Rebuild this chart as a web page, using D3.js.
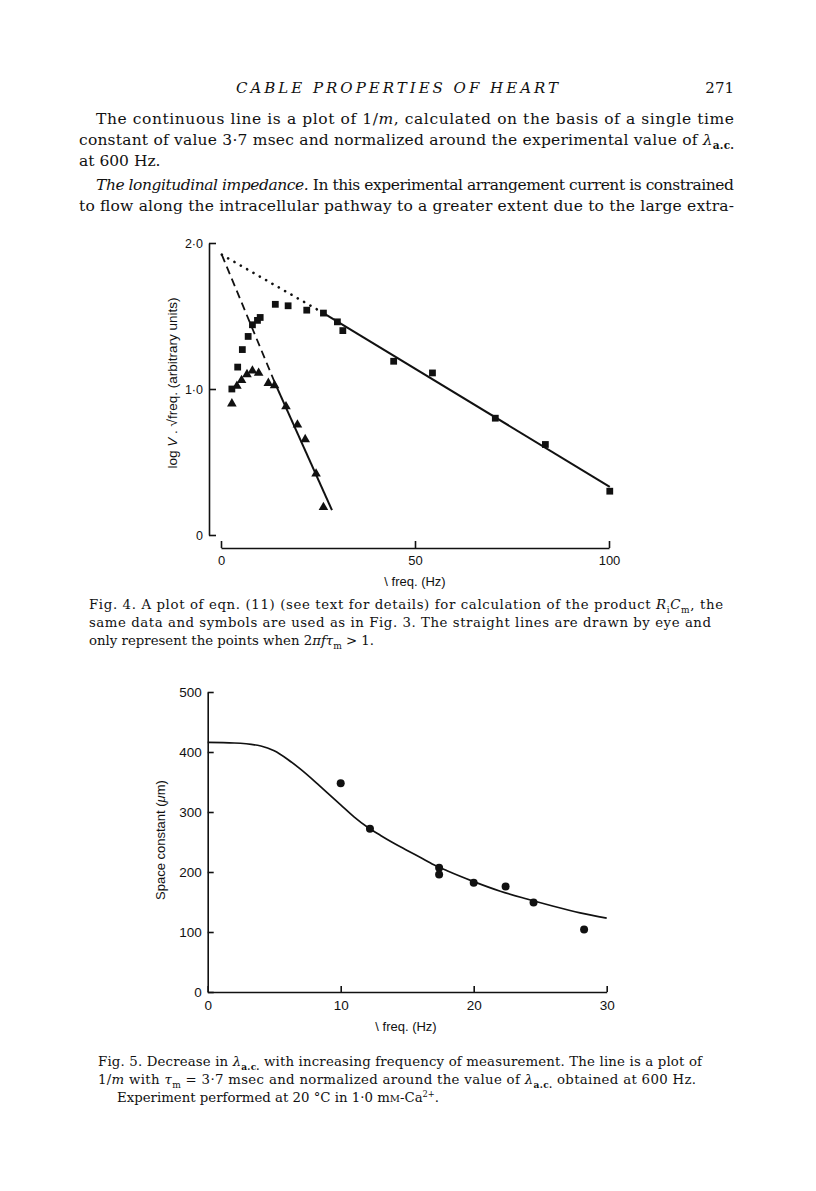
<!DOCTYPE html>
<html>
<head>
<meta charset="utf-8">
<script src="https://cdn.jsdelivr.net/npm/d3@7"></script>
<style>
  body { margin: 0; background: #fff; }
</style>
</head>
<body>
<div id="page"></div>
<script>
// ---- Fig. 4 data (sqrt freq in Hz, log V . sqrt freq) ----
const sqX = [2.8, 4.3, 5.5, 7.0, 8.1, 9.4, 10.1, 14.0, 17.3, 22.1, 26.4, 30.0, 31.4, 44.5, 54.5, 70.7, 83.6, 100.2];
const sqY = [1.00, 1.15, 1.27, 1.36, 1.44, 1.47, 1.49, 1.58, 1.57, 1.54, 1.52, 1.46, 1.40, 1.19, 1.11, 0.80, 0.62, 0.30];
const triX = [2.8, 4.1, 5.3, 6.7, 8.1, 9.7, 12.2, 13.8, 16.75, 19.7, 21.7, 24.5, 26.4];
const triY = [0.90, 1.02, 1.06, 1.10, 1.125, 1.11, 1.04, 1.025, 0.88, 0.755, 0.655, 0.42, 0.19];
// lines drawn by eye: [start, end]
const sqFitX = [26.4, 100.2], sqFitY = [1.52, 0.33];
const sqDotX = [0.2, 26.4], sqDotY = [1.92, 1.52];
const triFitX = [14.0, 28.6], triFitY = [1.035, 0.17];
const triDashX = [0.2, 14.0], triDashY = [1.92, 1.035];
const fig4XTicks = [0, 50, 100];
const fig4YTicks = [0, 1, 2];
const fig4YLabels = ["0", "1·0", "2·0"];

// ---- Fig. 5 data (sqrt freq, space constant um) ----
const dotX = [10.0, 12.2, 17.4, 17.4, 20.0, 22.4, 24.5, 28.3];
const dotY = [348, 272, 207, 196, 182, 176, 149, 104];
const curveX = [0, 2, 4, 5, 6, 7, 8, 9, 10, 11, 12, 13, 14, 15, 16, 17, 18, 20, 22, 24, 26, 28, 30];
const curveY = [416, 415, 410, 402, 388, 371, 352, 332, 312, 292, 275, 261, 248, 236, 224, 212, 202, 184, 168, 155, 143, 132, 123];
const fig5XTicks = [0, 10, 20, 30];
const fig5YTicks = [0, 100, 200, 300, 400, 500];

const serif = "'DejaVu Serif', 'Liberation Serif', serif";
const sans = "'Liberation Sans', Arial, sans-serif";
const ink = "#111";

const svg = d3.select("#page").append("svg")
  .attr("width", 816).attr("height", 1191)
  .attr("viewBox", "0 0 816 1191");
svg.append("rect").attr("width", 816).attr("height", 1191).attr("fill", "#fff");

// one line of set text; parts are strings or [string, flags]
function textLine(parts, x, y, opt) {
  const t = svg.append("text")
    .attr("x", x).attr("y", y)
    .attr("fill", ink)
    .style("font-family", opt.family || serif)
    .style("font-size", opt.size + "px");
  if (opt.width) t.attr("textLength", opt.width).attr("lengthAdjust", "spacing");
  if (opt.anchor) t.attr("text-anchor", opt.anchor);
  if (opt.italic) t.style("font-style", "italic");
  let shift = 0;
  parts.forEach(p => {
    const s = typeof p === "string" ? p : p[0];
    const flags = typeof p === "string" ? [] : p[1].split(" ");
    const sp = t.append("tspan").text(s);
    let want = 0;
    if (flags.includes("sub")) { want = opt.size * 0.28; sp.style("font-size", (opt.size * 0.68) + "px"); }
    if (flags.includes("sup")) { want = -opt.size * 0.35; sp.style("font-size", (opt.size * 0.62) + "px"); }
    if (flags.includes("sc")) sp.style("font-size", (opt.size * 0.75) + "px");
    if (flags.includes("i")) sp.style("font-style", "italic");
    if (flags.includes("b")) sp.style("font-weight", "bold");
    if (want !== shift) { sp.attr("dy", want - shift); shift = want; }
  });
  return t;
}

// ---- page header and body text ----
textLine(["CABLE PROPERTIES OF HEART"], 236, 93, { size: 15, italic: true, width: 322 });
textLine(["271"], 734, 93, { size: 15, anchor: "end" });

const bodySize = 15.5;
textLine(["The continuous line is a plot of 1/", ["m", "i"], ", calculated on the basis of a single time"], 96, 124, { size: bodySize, width: 638 });
textLine(["constant of value 3·7 msec and normalized around the experimental value of ", ["λ", "i"], ["a.c.", "sub b"]], 79, 145, { size: bodySize, width: 655 });
textLine(["at 600 Hz."], 79, 166, { size: bodySize });
textLine([["The longitudinal impedance.", "i"], " In this experimental arrangement current is constrained"], 96, 190, { size: bodySize, width: 638 });
textLine(["to flow along the intracellular pathway to a greater extent due to the large extra-"], 79, 211, { size: bodySize, width: 655 });

// ---- Fig. 4 ----
const x4 = d3.scaleLinear().domain([0, 100]).range([221, 609]);
const y4 = d3.scaleLinear().domain([0, 2]).range([535, 243]);

const g4 = svg.append("g");
g4.append("g")
  .attr("transform", "translate(209,0)")
  .call(d3.axisLeft(y4).tickValues(fig4YTicks).tickFormat((d, i) => fig4YLabels[i])
    .tickSizeInner(-7).tickSizeOuter(0).tickPadding(6))
  .call(a => a.selectAll("text").style("font-family", sans).style("font-size", "12.5px").attr("fill", ink))
  .call(a => a.selectAll("line, path").attr("stroke", ink).attr("stroke-width", 1.6));

g4.append("g")
  .attr("transform", "translate(0,548)")
  .call(d3.axisBottom(x4).tickValues(fig4XTicks).tickFormat(d3.format("d"))
    .tickSizeInner(-7).tickSizeOuter(0).tickPadding(8))
  .call(a => a.selectAll("text").style("font-family", sans).style("font-size", "13px").attr("fill", ink))
  .call(a => a.selectAll("line, path").attr("stroke", ink).attr("stroke-width", 1.6));

const pairLine = (xs, ys, xs_, ys_) => d3.line().x((d, i) => xs_(xs[i])).y((d, i) => ys_(ys[i]))(xs);

g4.append("path").attr("d", pairLine(sqFitX, sqFitY, x4, y4))
  .attr("fill", "none").attr("stroke", ink).attr("stroke-width", 2);
g4.append("path").attr("d", pairLine(triFitX, triFitY, x4, y4))
  .attr("fill", "none").attr("stroke", ink).attr("stroke-width", 2);
g4.append("path").attr("d", pairLine(sqDotX, sqDotY, x4, y4))
  .attr("fill", "none").attr("stroke", ink).attr("stroke-width", 2.6)
  .attr("stroke-linecap", "round").attr("stroke-dasharray", "0.1 7.2");
g4.append("path").attr("d", pairLine(triDashX, triDashY, x4, y4))
  .attr("fill", "none").attr("stroke", ink).attr("stroke-width", 1.8)
  .attr("stroke-dasharray", "8 5");

g4.selectAll(".sq").data(sqX).join("path")
  .attr("class", "sq")
  .attr("transform", (d, i) => `translate(${x4(d)},${y4(sqY[i])})`)
  .attr("d", d3.symbol(d3.symbolSquare, 46))
  .attr("fill", ink);

g4.selectAll(".tri").data(triX).join("path")
  .attr("class", "tri")
  .attr("transform", (d, i) => `translate(${x4(d)},${y4(triY[i])})`)
  .attr("d", d3.symbol(d3.symbolTriangle, 40))
  .attr("fill", ink);

svg.append("text")
  .attr("transform", "translate(177,383) rotate(-90)")
  .attr("text-anchor", "middle")
  .attr("fill", ink)
  .style("font-family", sans).style("font-size", "13.5px")
  .call(t => {
    t.append("tspan").text("log ");
    t.append("tspan").text("V").style("font-style", "italic");
    t.append("tspan").text(" . √freq. (arbitrary units)");
  });

svg.append("text")
  .attr("x", 415).attr("y", 586)
  .attr("text-anchor", "middle").attr("fill", ink)
  .style("font-family", sans).style("font-size", "13px")
  .text("\\ freq. (Hz)");

// Fig. 4 caption
const capSize = 13.3;
textLine(["Fig. 4. A plot of eqn. (11) (see text for details) for calculation of the product ", ["R", "i"], ["i", "sub"], ["C", "i"], ["m", "sub"], ", the"], 89, 609, { size: capSize, width: 634 });
textLine(["same data and symbols are used as in Fig. 3. The straight lines are drawn by eye and"], 89, 627, { size: capSize, width: 622 });
textLine(["only represent the points when 2", ["πfτ", "i"], ["m", "sub"], " > 1."], 89, 645, { size: capSize });

// ---- Fig. 5 ----
const x5 = d3.scaleLinear().domain([0, 30]).range([207.7, 606.7]);
const y5 = d3.scaleLinear().domain([0, 500]).range([992, 692]);

const g5 = svg.append("g");
g5.append("g")
  .attr("transform", "translate(207.7,0)")
  .call(d3.axisLeft(y5).tickValues(fig5YTicks).tickFormat(d3.format("d"))
    .tickSizeInner(-6).tickSizeOuter(0).tickPadding(6))
  .call(a => a.selectAll("text").style("font-family", sans).style("font-size", "13.5px").attr("fill", ink))
  .call(a => a.selectAll("line, path").attr("stroke", ink).attr("stroke-width", 1.6));

g5.append("g")
  .attr("transform", "translate(0,992)")
  .call(d3.axisBottom(x5).tickValues(fig5XTicks).tickFormat(d3.format("d"))
    .tickSizeInner(-6).tickSizeOuter(0).tickPadding(8))
  .call(a => a.selectAll("text").style("font-family", sans).style("font-size", "13.5px").attr("fill", ink))
  .call(a => a.selectAll("line, path").attr("stroke", ink).attr("stroke-width", 1.6));

g5.append("path")
  .attr("d", d3.line().curve(d3.curveMonotoneX)
    .x(d => x5(d)).y((d, i) => y5(curveY[i]))(curveX))
  .attr("fill", "none").attr("stroke", ink).attr("stroke-width", 1.7);

g5.selectAll(".dot").data(dotX).join("circle")
  .attr("class", "dot")
  .attr("cx", d => x5(d))
  .attr("cy", (d, i) => y5(dotY[i]))
  .attr("r", 4)
  .attr("fill", ink);

svg.append("text")
  .attr("transform", "translate(165,840) rotate(-90)")
  .attr("text-anchor", "middle").attr("fill", ink)
  .style("font-family", sans).style("font-size", "13px")
  .call(t => {
    t.append("tspan").text("Space constant (");
    t.append("tspan").text("μ").style("font-style", "italic");
    t.append("tspan").text("m)");
  });

svg.append("text")
  .attr("x", 406).attr("y", 1031)
  .attr("text-anchor", "middle").attr("fill", ink)
  .style("font-family", sans).style("font-size", "13px")
  .text("\\ freq. (Hz)");

// Fig. 5 caption
textLine(["Fig. 5. Decrease in ", ["λ", "i"], ["a.c.", "sub b"], " with increasing frequency of measurement. The line is a plot of"], 98, 1066, { size: capSize, width: 604 });
textLine(["1/", ["m", "i"], " with ", ["τ", "i"], ["m", "sub"], " = 3·7 msec and normalized around the value of ", ["λ", "i"], ["a.c.", "sub b"], " obtained at 600 Hz."], 98, 1084, { size: capSize, width: 598 });
textLine(["Experiment performed at 20 °C in 1·0 m", ["M", "sc"], "-Ca", ["2+", "sup"], "."], 117, 1102, { size: capSize });
</script>
</body>
</html>
